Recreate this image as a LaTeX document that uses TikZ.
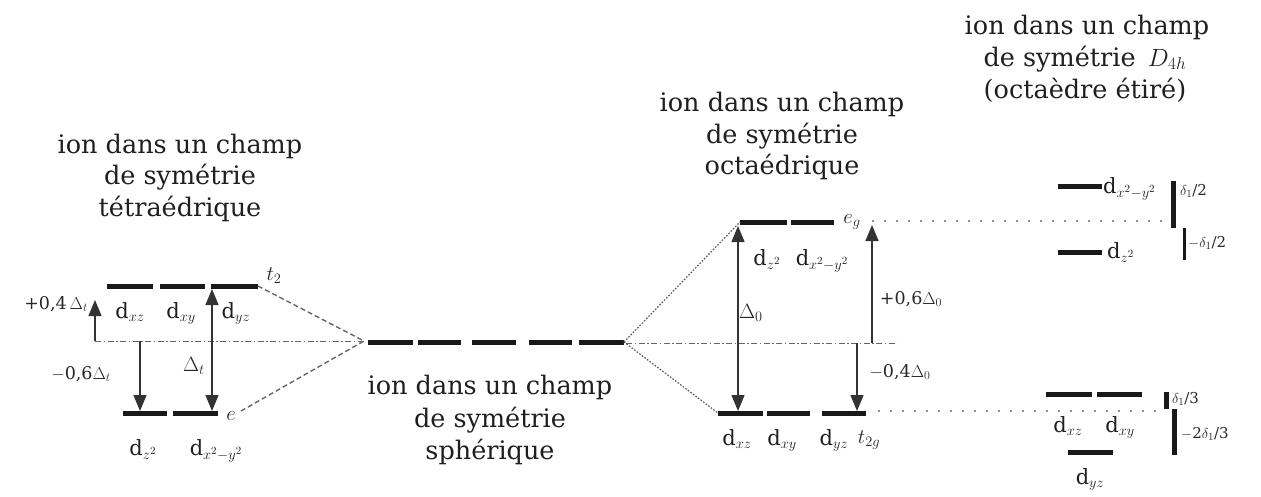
\documentclass[tikz,border=0pt]{standalone}
\usepackage{fontspec}
\setmainfont{DejaVu Serif}
\usetikzlibrary{arrows.meta}
\begin{document}
\begin{tikzpicture}[x=1pt,y=-1pt,
  lvl/.style={line width=5pt,black!90},
  ttl/.style={font=\fontsize{25.5}{31}\selectfont,anchor=base,inner sep=0pt,text=black!88},
  dlab/.style={font=\fontsize{21}{24}\selectfont,anchor=base,inner sep=0pt,text=black!88},
  sym/.style={font=\fontsize{22}{24}\selectfont,inner sep=0pt,text=black!85},
  elab/.style={font=\fontsize{17.5}{20}\selectfont,inner sep=0pt,text=black!85},
  slab/.style={font=\fontsize{15}{18}\selectfont,inner sep=0pt,text=black!85},
  arr/.style={line width=1.4pt,black!80,-{Triangle[width=13pt,length=16pt]}},
  darr/.style={line width=1.4pt,black!80,{Triangle[width=13pt,length=16pt]}-{Triangle[width=13pt,length=16pt]}},
  tdash/.style={line width=1.4pt,black!60,dash pattern=on 5pt off 3pt},
  odot/.style={line width=1.2pt,black!65,dash pattern=on 1.6pt off 1.6pt},
  dashdot/.style={line width=1pt,black!60,dash pattern=on 6pt off 2.5pt on 1.5pt off 2.5pt},
  rdot/.style={line width=1.6pt,black!45,dash pattern=on 2pt off 10pt},
  vbar/.style={line width=5pt,black!90},
  vthin/.style={line width=3pt,black!90}
]
\useasboundingbox (0,0) rectangle (1261,496);

% ---------------- tetrahedral ----------------
\node[ttl] (tt1) at (180,153) {ion dans un champ};
\node[ttl] (tt2) at (180,184) {de symétrie};
\node[ttl] (tt3) at (180,216) {tétraédrique};

\coordinate (ta1) at (107,286); \coordinate (tb1) at (153,286);
\coordinate (ta2) at (160,286); \coordinate (tb2) at (205,286);
\coordinate (ta3) at (211,286); \coordinate (tb3) at (258,286);
\draw[lvl] (ta1) -- (tb1);
\draw[lvl] (ta2) -- (tb2);
\draw[lvl] (ta3) -- (tb3);
\node[dlab] (tdxz) at (130,318) {d$_{xz}$};
\node[dlab] (tdxy) at (181,318) {d$_{xy}$};
\node[dlab] (tdyz) at (236,318) {d$_{yz}$};
\node[sym] (tt2l) at (274,276) {$t_2$};

\coordinate (ea1) at (123,413); \coordinate (eb1) at (167,413);
\coordinate (ea2) at (173,413); \coordinate (eb2) at (218,413);
\draw[lvl] (ea1) -- (eb1);
\draw[lvl] (ea2) -- (eb2);
\node[dlab] (tdz2) at (143,455) {d$_{z^2}$};
\node[dlab] (tdx2) at (216,455) {d$_{x^2-y^2}$};
\node[sym] (tel) at (231,416) {$e$};

\coordinate (tbl) at (95,341);
\coordinate (tbr) at (364,341);
\draw[dashdot] (tbl) -- (tbr);
\coordinate (eS) at (241,411);
\draw[tdash] (tb3) -- (tbr);
\draw[tdash] (eS) -- (tbr);

\coordinate (up4) at (95,300);
\draw[arr] (tbl) -- (up4);
\node[elab,anchor=east] (l04) at (88,304) {+0,4\,$\Delta_t$};
\coordinate (dn6a) at (140,341); \coordinate (dn6b) at (140,411);
\draw[arr] (dn6a) -- (dn6b);
\node[elab] (l06) at (81,374) {$-$0,6$\Delta_t$};
\coordinate (dta) at (212,411); \coordinate (dtb) at (212,289);
\draw[darr] (dta) -- (dtb);
\node[elab,font=\fontsize{20}{22}\selectfont] (ldt) at (194,366) {$\Delta_t$};

% ---------------- spherical ----------------
\coordinate (s1a) at (368,342); \coordinate (s1b) at (413,342);
\coordinate (s2a) at (418,342); \coordinate (s2b) at (461,342);
\coordinate (s3a) at (472,342); \coordinate (s3b) at (516,342);
\coordinate (s4a) at (529,342); \coordinate (s4b) at (572,342);
\coordinate (s5a) at (579,342); \coordinate (s5b) at (624,342);
\draw[lvl] (s1a) -- (s1b);
\draw[lvl] (s2a) -- (s2b);
\draw[lvl] (s3a) -- (s3b);
\draw[lvl] (s4a) -- (s4b);
\draw[lvl] (s5a) -- (s5b);
\node[ttl] (st1) at (490,394) {ion dans un champ};
\node[ttl] (st2) at (490,427) {de symétrie};
\node[ttl] (st3) at (490,459) {sphérique};

% ---------------- octahedral ----------------
\node[ttl] (ot1) at (782,111) {ion dans un champ};
\node[ttl] (ot2) at (782,143) {de symétrie};
\node[ttl] (ot3) at (782,174) {octaédrique};

\coordinate (ga1) at (740,222); \coordinate (gb1) at (787,222);
\coordinate (ga2) at (791,222); \coordinate (gb2) at (834,222);
\draw[lvl] (ga1) -- (gb1);
\draw[lvl] (ga2) -- (gb2);
\node[dlab] (odz2) at (767,265) {d$_{z^2}$};
\node[dlab] (odx2) at (822,265) {d$_{x^2-y^2}$};
\node[sym] (oeg) at (852,222) {$e_g$};

\coordinate (ka1) at (718,413); \coordinate (kb1) at (763,413);
\coordinate (ka2) at (767,413); \coordinate (kb2) at (810,413);
\coordinate (ka3) at (822,413); \coordinate (kb3) at (866,413);
\draw[lvl] (ka1) -- (kb1);
\draw[lvl] (ka2) -- (kb2);
\draw[lvl] (ka3) -- (kb3);
\node[dlab] (odxz) at (737,445) {d$_{xz}$};
\node[dlab] (odxy) at (782,445) {d$_{xy}$};
\node[dlab] (odyz) at (834,445) {d$_{yz}$};
\node[sym] (ot2g) at (869,440) {$t_{2g}$};

\coordinate (obl) at (626,343);
\coordinate (obr) at (897,343);
\draw[dashdot] (obl) -- (obr);
\draw[odot] (s5b) -- (ga1);
\draw[odot] (s5b) -- (ka1);

\coordinate (d0a) at (738,411); \coordinate (d0b) at (738,226);
\draw[darr] (d0a) -- (d0b);
\node[elab,font=\fontsize{20}{22}\selectfont] (ld0) at (751,313) {$\Delta_0$};
\coordinate (u6a) at (872,343); \coordinate (u6b) at (872,225);
\draw[arr] (u6a) -- (u6b);
\node[elab] (l6) at (911,299) {+0,6$\Delta_0$};
\coordinate (d4a) at (857,343); \coordinate (d4b) at (857,411);
\draw[arr] (d4a) -- (d4b);
\node[elab] (l4) at (900,372) {$-$0,4$\Delta_0$};

% dotted guide lines
\coordinate (rgA) at (872,221); \coordinate (rgB) at (1162,221);
\coordinate (rkA) at (878,411); \coordinate (rkB) at (1162,411);
\draw[rdot] (rgA) -- (rgB);
\draw[rdot] (rkA) -- (rkB);

% ---------------- D4h ----------------
\node[ttl] (dt1) at (1087,34) {ion dans un champ};
\node[ttl] (dt2) at (1085,66) {de symétrie \,$D_{4h}$};
\node[ttl] (dt3) at (1085,98) {(octaèdre étiré)};

\coordinate (xa) at (1058,186); \coordinate (xb) at (1102,186);
\draw[lvl] (xa) -- (xb);
\node[dlab,anchor=base west] (ddx2) at (1103,193) {d$_{x^2-y^2}$};
\coordinate (za) at (1058,252); \coordinate (zb) at (1102,252);
\draw[lvl] (za) -- (zb);
\node[dlab,anchor=base west] (ddz2) at (1107,258) {d$_{z^2}$};

\coordinate (v1a) at (1173,181); \coordinate (v1b) at (1173,228);
\draw[vbar] (v1a) -- (v1b);
\coordinate (v2a) at (1184,228); \coordinate (v2b) at (1184,260);
\draw[vthin] (v2a) -- (v2b);
\node[slab,anchor=west] (ld2) at (1180,191) {$\delta_1$/2};
\node[slab,anchor=west] (lmd2) at (1188,243) {$-\delta_1$/2};

\coordinate (xza) at (1046,394); \coordinate (xzb) at (1092,394);
\coordinate (xya) at (1097,394); \coordinate (xyb) at (1142,394);
\draw[lvl] (xza) -- (xzb);
\draw[lvl] (xya) -- (xyb);
\node[dlab] (ddxz) at (1068,432) {d$_{xz}$};
\node[dlab] (ddxy) at (1120,432) {d$_{xy}$};
\coordinate (yza) at (1068,452); \coordinate (yzb) at (1113,452);
\draw[lvl] (yza) -- (yzb);
\node[dlab] (ddyz) at (1090,484) {d$_{yz}$};

\coordinate (w1a) at (1166,392); \coordinate (w1b) at (1166,409);
\draw[vbar] (w1a) -- (w1b);
\coordinate (w2a) at (1174,409); \coordinate (w2b) at (1174,455);
\draw[vbar] (w2a) -- (w2b);
\node[slab,anchor=west] (ld3) at (1172,399) {$\delta_1$/3};
\node[slab,anchor=west] (lmd3) at (1181,434) {$-$2$\delta_1$/3};

\end{tikzpicture}
\end{document}
